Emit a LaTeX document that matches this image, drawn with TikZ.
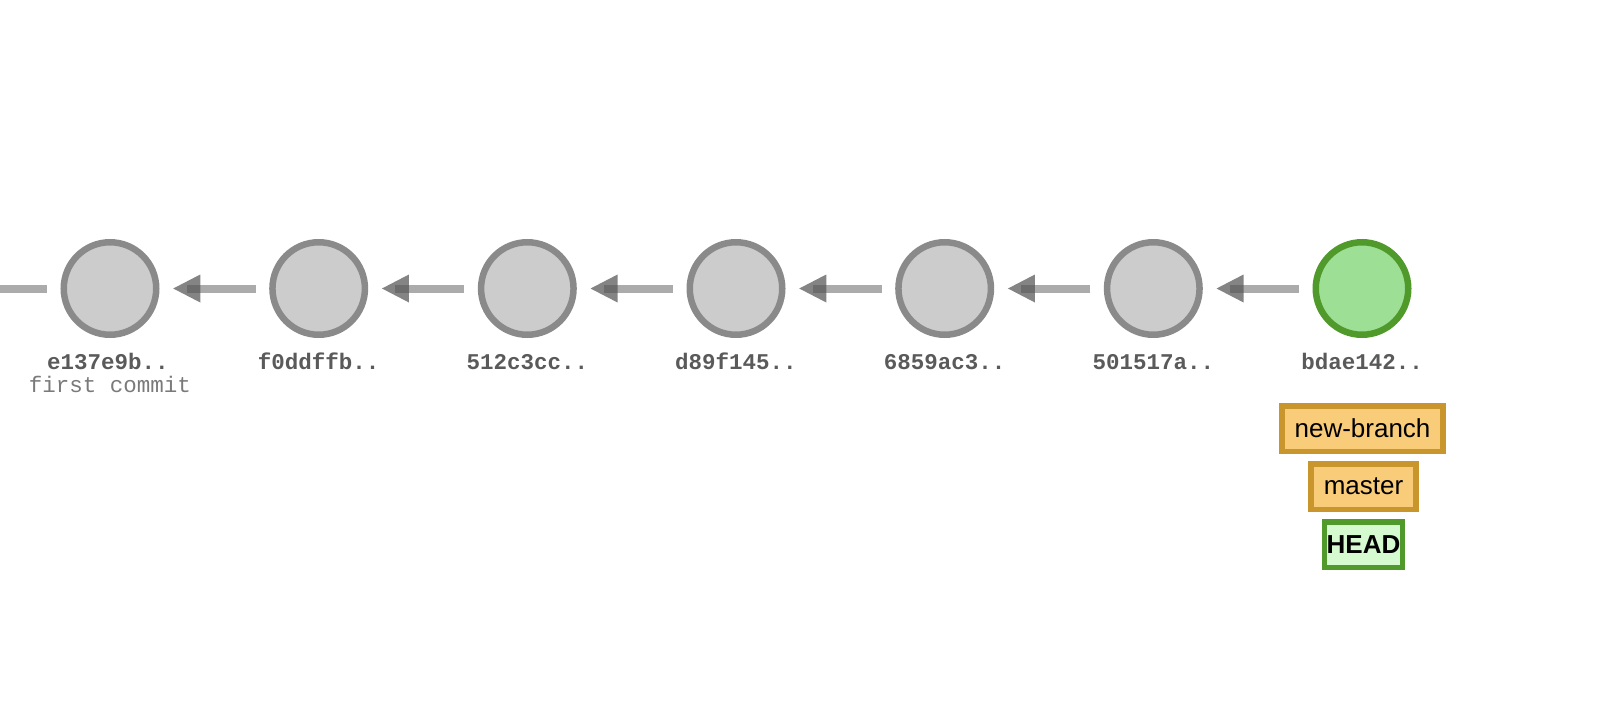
\documentclass[tikz,border=0pt]{standalone}
\usepackage{fontspec}
\setmainfont{Liberation Sans}
\setmonofont{Liberation Mono}
\usetikzlibrary{calc}
\definecolor{cfill}{HTML}{CCCCCC}
\definecolor{cline}{HTML}{8A8A8A}
\definecolor{gfill}{HTML}{9EDF96}
\definecolor{gline}{HTML}{4F9A2B}
\definecolor{tfill}{HTML}{F9CC7A}
\definecolor{tline}{HTML}{C9962D}
\definecolor{hfill}{HTML}{D6FAD0}
\definecolor{conncol}{HTML}{ABABAB}
\definecolor{headcol}{HTML}{555555}
\definecolor{hashcol}{HTML}{5A5A5A}
\definecolor{msgcol}{HTML}{7A7A7A}
\tikzset{
  commit/.style={circle, draw=cline, fill=cfill, line width=6.5pt, minimum size=92.5pt, inner sep=0pt},
  headcommit/.style={commit, draw=gline, fill=gfill},
  hash/.style={anchor=base, text=hashcol, font=\fontsize{22.5}{27}\selectfont\ttfamily\bfseries, inner sep=0pt},
  msg/.style={anchor=base, text=msgcol, font=\fontsize{22.5}{27}\selectfont\ttfamily, inner sep=0pt},
  tag/.style={draw=tline, fill=tfill, line width=5.5pt, minimum height=45.5pt, inner xsep=12.8pt, inner ysep=0pt, font=\fontsize{26}{30}\selectfont, text=black},
  headtag/.style={tag, draw=gline, fill=hfill, inner xsep=2pt, font=\fontsize{26}{30}\selectfont\bfseries},
  conn/.style={draw=conncol, line width=8pt},
  tip/.style={fill=headcol, fill opacity=0.72}
}
\begin{document}
\begin{tikzpicture}[x=1pt,y=-1pt]
\useasboundingbox (0,0) rectangle (1600,709);
\node[commit] (c1) at (110,288.5) {};
\node[commit] (c2) at (318.7,288.5) {};
\node[commit] (c3) at (527.3,288.5) {};
\node[commit] (c4) at (736,288.5) {};
\node[commit] (c5) at (944.7,288.5) {};
\node[commit] (c6) at (1153.3,288.5) {};
\node[headcommit] (c7) at (1362,288.5) {};
\node[hash] (h1) at (108,369.5) {e137e9b..};
\node[msg] (m1) at (110,392.5) {first commit};
\node[hash] (h2) at (318.7,369.5) {f0ddffb..};
\node[hash] (h3) at (527.3,369.5) {512c3cc..};
\node[hash] (h4) at (736,369.5) {d89f145..};
\node[hash] (h5) at (944.7,369.5) {6859ac3..};
\node[hash] (h6) at (1153.3,369.5) {501517a..};
\node[hash] (h7) at (1362,369.5) {bdae142..};
\node[tag] (t1) at (1362.5,428.5) {new-branch};
\node[tag] (t2) at (1363.5,486.5) {master};
\node[headtag] (t3) at (1363.5,544.5) {HEAD};
\coordinate (s0) at (0,288.5);
\draw[conn, shorten >=13.75pt] (s0) -- (c1);
\foreach \a/\b in {c2/c1,c3/c2,c4/c3,c5/c4,c6/c5,c7/c6}{
  \draw[conn, shorten <=13.5pt, shorten >=27pt] (\a.west) -- (\b.east);
  \path[tip] ($(\b.east)+(13.75,0)$) -- ($(\b.east)+(40.75,-14)$) -- ($(\b.east)+(40.75,14)$) -- cycle;
}
\end{tikzpicture}
\end{document}
